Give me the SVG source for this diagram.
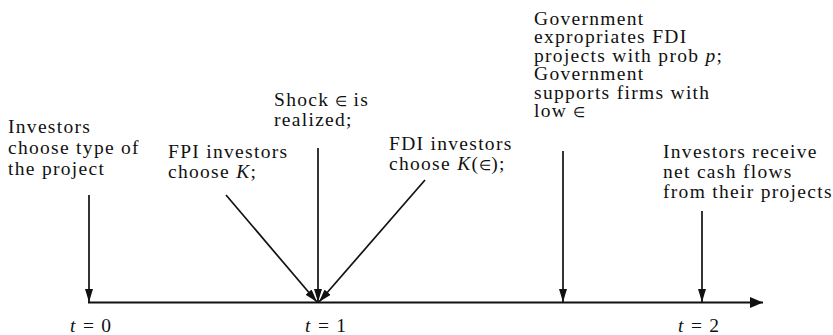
<svg xmlns="http://www.w3.org/2000/svg" width="833" height="335" viewBox="0 0 833 335">
<defs>
<style>
text{font-family:"Liberation Serif","Times New Roman",serif;font-size:19.5px;letter-spacing:1.3px;fill:#111}
.i{font-style:italic}
.e{font-size:14px;letter-spacing:0}
.c line{stroke:#111;stroke-width:1.7;fill:none}
</style>
<marker id="ah" viewBox="0 0 13 8" refX="13" refY="4" markerWidth="13" markerHeight="8" markerUnits="userSpaceOnUse" orient="auto"><path d="M0,0 L13,4 L0,8 z" fill="#111"/></marker>
<marker id="ax" viewBox="0 0 13 11" refX="13" refY="5.5" markerWidth="13" markerHeight="11" markerUnits="userSpaceOnUse" orient="auto"><path d="M0,0 L13,5.5 L0,11 z" fill="#111"/></marker>
</defs>
<rect width="833" height="335" fill="#fff"/>
<g id="axis" class="c">
<line x1="88" y1="302.5" x2="763" y2="302.5" style="stroke-width:2.2" marker-end="url(#ax)"/>
</g>
<g id="connectors" class="c">
<line x1="89" y1="195" x2="89" y2="302" marker-end="url(#ah)"/>
<line x1="226" y1="195" x2="317" y2="302" marker-end="url(#ah)"/>
<line x1="318" y1="148" x2="318" y2="302" marker-end="url(#ah)"/>
<line x1="425" y1="180" x2="319" y2="302" marker-end="url(#ah)"/>
<line x1="563" y1="151" x2="563" y2="302" marker-end="url(#ah)"/>
<line x1="702" y1="211" x2="702" y2="302" marker-end="url(#ah)"/>
</g>
<g id="n-choose-type">
<text x="8" y="133">Investors</text>
<text x="8" y="154">choose type of</text>
<text x="8" y="175">the project</text>
</g>
<g id="n-fpi">
<text x="168" y="158">FPI investors</text>
<text x="168" y="178">choose <tspan class="i">K</tspan>;</text>
</g>
<g id="n-shock">
<text x="274" y="106">Shock <tspan class="e">∈</tspan> is</text>
<text x="274" y="126">realized;</text>
</g>
<g id="n-fdi">
<text x="389" y="150">FDI investors</text>
<text x="389" y="170">choose <tspan class="i">K</tspan>(<tspan class="e">∈</tspan>);</text>
</g>
<g id="n-gov">
<text x="534" y="25">Government</text>
<text x="534" y="43">expropriates FDI</text>
<text x="534" y="62">projects with prob <tspan class="i">p</tspan>;</text>
<text x="534" y="80">Government</text>
<text x="534" y="99">supports firms with</text>
<text x="534" y="117">low <tspan class="e">∈</tspan></text>
</g>
<g id="n-receive">
<text x="663" y="158">Investors receive</text>
<text x="663" y="178">net cash flows</text>
<text x="663" y="198">from their projects</text>
</g>
<g id="t-labels">
<text x="70" y="332"><tspan class="i">t</tspan> = 0</text>
<text x="305" y="332"><tspan class="i">t</tspan> = 1</text>
<text x="678" y="332"><tspan class="i">t</tspan> = 2</text>
</g>
</svg>
